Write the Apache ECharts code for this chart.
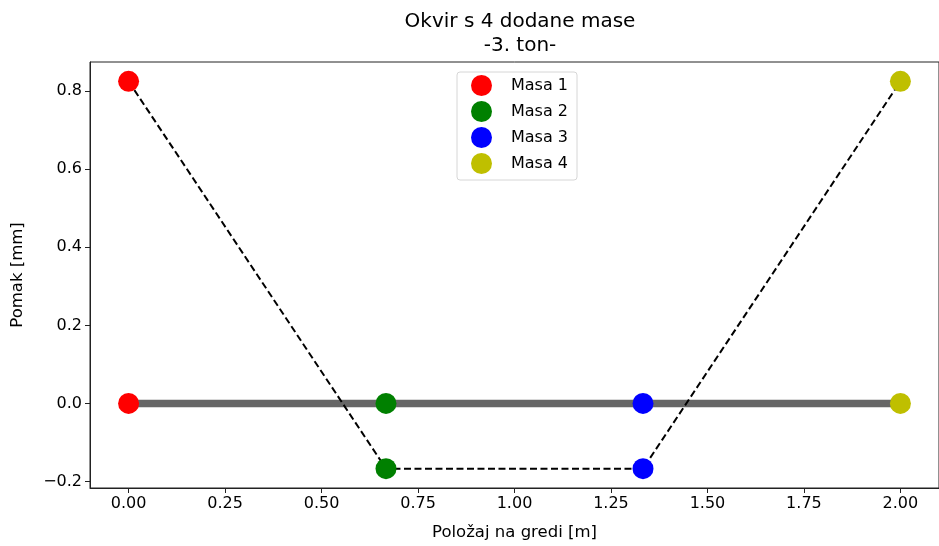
<!DOCTYPE html>
<html>
<head>
<meta charset="utf-8">
<script src="https://cdn.jsdelivr.net/npm/echarts@6/dist/echarts.min.js"></script>
<style>
  html, body { margin: 0; padding: 0; background: #fff; }
  #main { width: 939px; height: 546px; }
</style>
</head>
<body>
<div id="main"></div>
<script>
// položaji masa i pomaci (3. ton)
var positions = [0.0, 0.667, 1.333, 2.0];
var displacements = [0.825, -0.167, -0.167, 0.825];
var massNames = ['Masa 1', 'Masa 2', 'Masa 3', 'Masa 4'];
var massColors = ['#ff0000', '#008000', '#0000ff', '#bfbf00'];
var xTicks = [0, 0.25, 0.5, 0.75, 1.0, 1.25, 1.5, 1.75, 2.0];
var yTicks = [-0.2, 0, 0.2, 0.4, 0.6, 0.8];

var myChart = echarts.init(document.getElementById('main'));

var font = 'DejaVu Sans';

var series = [];
// greda (nedeformirano stanje)
series.push({
    name: 'greda',
    type: 'line',
    data: [[positions[0], 0], [positions[positions.length - 1], 0]],
    symbol: 'none',
    lineStyle: { color: '#666666', width: 7.5 },
    z: 1,
    silent: true
});
// deformirani oblik
var shape = [];
for (var i = 0; i < positions.length; i++) {
    shape.push([positions[i], displacements[i]]);
}
series.push({
    name: 'oblik',
    type: 'line',
    data: shape,
    symbol: 'none',
    lineStyle: { color: '#000', width: 2, type: [7, 3.5] },
    z: 2,
    silent: true
});
// mase
for (var j = 0; j < positions.length; j++) {
    series.push({
        name: massNames[j],
        type: 'scatter',
        data: [[positions[j], 0], [positions[j], displacements[j]]],
        symbol: 'circle',
        symbolSize: 21,
        itemStyle: { color: massColors[j], opacity: 1 },
        z: 3
    });
}

var option = {
    animation: false,
    title: {
        text: 'Okvir s 4 dodane mase\n-3. ton-',
        left: 515,
        textAlign: 'center',
        top: 5,
        textStyle: { fontFamily: font, fontSize: 20, fontWeight: 'normal', color: '#000', lineHeight: 24 }
    },
    legend: {
        data: massNames,
        orient: 'vertical',
        left: 457,
        top: 72,
        icon: 'circle',
        itemWidth: 21,
        itemHeight: 21,
        itemGap: 5,
        padding: [3, 9, 6, 14],
        backgroundColor: 'rgba(255,255,255,0.8)',
        borderColor: '#d6d6d6',
        borderWidth: 1,
        borderRadius: 3,
        textStyle: { fontFamily: font, fontSize: 16, color: '#000', padding: [0, 0, 0, 14] }
    },
    grid: {
        left: 90,
        top: 62,
        width: 854,
        height: 428.5,
        show: true,
        borderColor: '#222',
        borderWidth: 1,
        containLabel: false
    },
    xAxis: {
        type: 'value',
        min: -0.1,
        max: 2.1,
        name: 'Položaj na gredi [m]',
        nameLocation: 'middle',
        nameGap: 36,
        nameTextStyle: { fontFamily: font, fontSize: 16.5, color: '#000' },
        splitLine: { show: false },
        axisLine: { show: true, onZero: false, lineStyle: { color: '#222' } },
        axisTick: { show: true, inside: false, length: 5, lineStyle: { color: '#222' }, customValues: xTicks },
        axisLabel: {
            fontFamily: font, fontSize: 16, color: '#000', margin: 8,
            customValues: xTicks,
            formatter: function (v) { return v.toFixed(2); }
        }
    },
    yAxis: {
        type: 'value',
        min: -0.2166,
        max: 0.8746,
        name: 'Pomak [mm]',
        nameLocation: 'middle',
        nameGap: 64,
        nameTextStyle: { fontFamily: font, fontSize: 16.5, color: '#000' },
        splitLine: { show: false },
        axisLine: { show: true, onZero: false, lineStyle: { color: '#222' } },
        axisTick: { show: true, inside: false, length: 5, lineStyle: { color: '#222' }, customValues: yTicks },
        axisLabel: {
            fontFamily: font, fontSize: 16, color: '#000', margin: 8,
            customValues: yTicks,
            formatter: function (v) { return v.toFixed(1).replace('-', '\u2212'); }
        }
    },
    series: series
};
myChart.setOption(option);
</script>
</body>
</html>
